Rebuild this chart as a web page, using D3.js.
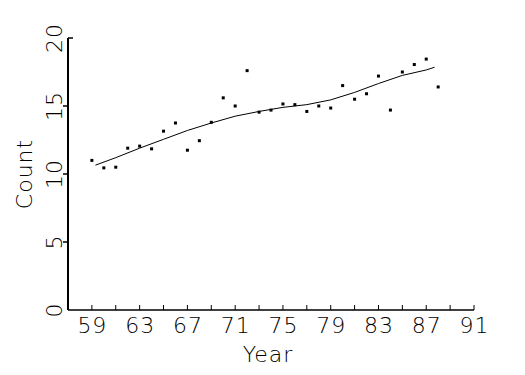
<!DOCTYPE html>
<html lang="en">
<head>
    <meta charset="UTF-8">
    <title>Count by Year</title>
    <style>
        body { margin: 0; background: #fff; }
        svg text {
            font-family: "DejaVu Sans", sans-serif;
            font-weight: 200;
            fill: #000;
            letter-spacing: 1px;
        }
    </style>
</head>
<body>
    <div id="chart"></div>

    <script src="https://d3js.org/d3.v7.min.js"></script>
    <script>
        const width = 525;
        const height = 375;

        // Observed counts by year
        const years = [59, 60, 61, 62, 63, 64, 65, 66, 67, 68, 69, 70, 71, 72, 73,
                       74, 75, 76, 77, 78, 79, 80, 81, 82, 83, 84, 85, 86, 87, 88];
        const counts = [11.0, 10.45, 10.5, 11.9, 12.05, 11.85, 13.15, 13.75, 11.75, 12.45,
                        13.8, 15.6, 15.0, 17.6, 14.55, 14.7, 15.15, 15.1, 14.6, 15.0,
                        14.85, 16.5, 15.5, 15.9, 17.2, 14.7, 17.5, 18.05, 18.45, 16.4];

        // Smoothed trend
        const fitYears = [59.3, 61, 63, 65, 67, 69, 71, 73, 75, 77, 79, 81, 83, 85, 87, 87.7];
        const fitCounts = [10.65, 11.2, 11.9, 12.55, 13.2, 13.75, 14.25, 14.6, 14.9, 15.1,
                           15.45, 16.0, 16.65, 17.25, 17.65, 17.85];

        const xTicks = d3.range(59, 92, 2);
        const xLabels = d3.range(59, 92, 4);
        const yTicks = [0, 5, 10, 15, 20];

        const margin = { top: 38, right: 51, bottom: 65, left: 68 };

        const svg = d3.select("#chart")
            .append("svg")
            .attr("width", width)
            .attr("height", height);

        const x = d3.scaleLinear()
            .domain([57, 91])
            .range([margin.left, width - margin.right]);

        const y = d3.scaleLinear()
            .domain([0, 20])
            .range([height - margin.bottom, margin.top]);

        const x0 = x.range()[0], x1 = x.range()[1];
        const yBase = y(0);

        // x axis: ticks pointing up into the plot
        svg.append("line")
            .attr("x1", x0).attr("x2", x1)
            .attr("y1", yBase).attr("y2", yBase)
            .attr("stroke", "#000").attr("stroke-width", 1.6);

        svg.selectAll(".xtick")
            .data(xTicks)
            .join("line")
            .attr("class", "xtick")
            .attr("x1", d => x(d)).attr("x2", d => x(d))
            .attr("y1", yBase).attr("y2", yBase - 5)
            .attr("stroke", "#000").attr("stroke-width", 1);

        svg.selectAll(".xlabel")
            .data(xLabels)
            .join("text")
            .attr("class", "xlabel")
            .attr("x", d => x(d) + 0.5)
            .attr("y", yBase + 23)
            .attr("text-anchor", "middle")
            .attr("font-size", 22)
            .text(d => d);

        // y axis: ticks pointing left, top tick pointing right
        svg.append("line")
            .attr("x1", x0).attr("x2", x0)
            .attr("y1", yBase).attr("y2", y(20))
            .attr("stroke", "#000").attr("stroke-width", 2);

        svg.selectAll(".ytick")
            .data(yTicks.filter(d => d > 0))
            .join("line")
            .attr("class", "ytick")
            .attr("x1", x0)
            .attr("x2", d => d === 20 ? x0 + 5 : x0 - 5)
            .attr("y1", d => y(d)).attr("y2", d => y(d))
            .attr("stroke", "#000").attr("stroke-width", 1.5);

        svg.selectAll(".ylabel")
            .data(yTicks)
            .join("text")
            .attr("class", "ylabel")
            .attr("transform", d => `translate(${x0 - 6},${y(d)}) rotate(-90)`)
            .attr("text-anchor", "middle")
            .attr("font-size", 22)
            .text(d => d);

        // axis titles
        svg.append("text")
            .attr("x", (x0 + x1) / 2 - 3)
            .attr("y", 362)
            .attr("text-anchor", "middle")
            .attr("font-size", 22)
            .text("Year");

        svg.append("text")
            .attr("transform", `translate(32,${y(10)}) rotate(-90)`)
            .attr("text-anchor", "middle")
            .attr("font-size", 22)
            .text("Count");

        // data points
        const pts = years.map((d, i) => ({ year: d, count: counts[i] }));
        svg.selectAll(".pt")
            .data(pts)
            .join("rect")
            .attr("class", "pt")
            .attr("x", d => x(d.year) - 1.5)
            .attr("y", d => y(d.count) - 1.5)
            .attr("width", 3)
            .attr("height", 3)
            .attr("fill", "#000");

        // smooth line
        const fit = fitYears.map((d, i) => ({ year: d, count: fitCounts[i] }));
        svg.append("path")
            .datum(fit)
            .attr("d", d3.line().x(d => x(d.year)).y(d => y(d.count)))
            .attr("fill", "none")
            .attr("stroke", "#000")
            .attr("stroke-width", 1);
    </script>
</body>
</html>
